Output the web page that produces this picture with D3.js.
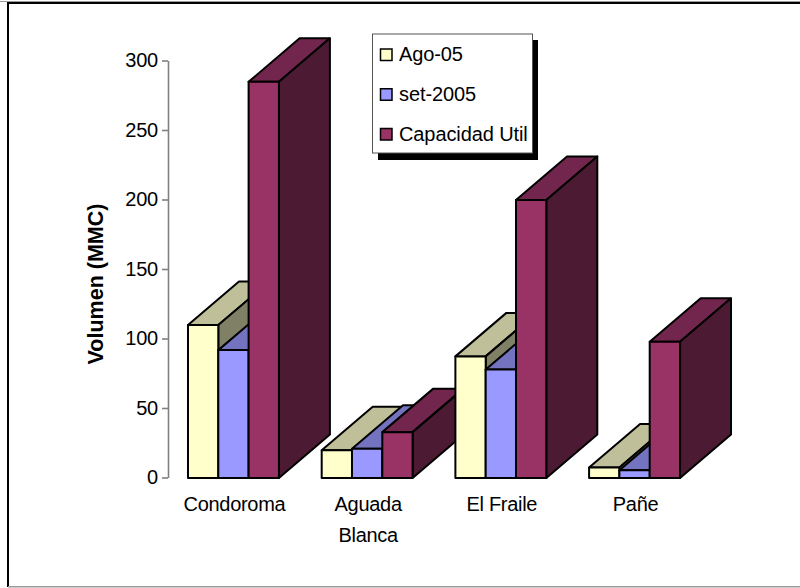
<!DOCTYPE html>
<html>
<head>
<meta charset="utf-8">
<script src="https://cdn.jsdelivr.net/npm/d3@7/dist/d3.min.js"></script>
<style>
html,body{margin:0;padding:0;background:#fff;}
svg{display:block;}
text{font-family:"Liberation Sans",Arial,sans-serif;fill:#000;}
</style>
</head>
<body>
<svg id="c" width="800" height="588"></svg>
<script>
const categories = [["Condoroma"], ["Aguada", "Blanca"], ["El Fraile"], ["Pañe"]];
const seriesNames = ["Ago-05", "set-2005", "Capacidad Util"];
const ago05 = [110, 20, 87.5, 7.5];
const set2005 = [92, 21, 78, 5.5];
const capacidad = [285, 33, 200, 98];
const yTicks = [0, 50, 100, 150, 200, 250, 300];
const frontColors = ["#FFFFCC", "#9999FF", "#993366"];
const topColors = ["#BFBF99", "#7373BF", "#73264D"];
const sideColors = ["#808066", "#4D4D80", "#4D1A33"];

const svg = d3.select("#c");
const depthX = 51, depthY = 43.5;
const seriesValues = [ago05, set2005, capacidad];

const y = d3.scaleLinear().domain([0, 300]).range([478, 61]);
const x = d3.scaleBand().domain(d3.range(categories.length)).range([166.6, 701.4]).paddingInner(0.32).paddingOuter(0.16);
const xs = d3.scaleBand().domain(d3.range(seriesNames.length)).range([0, x.bandwidth()]);

// frame
svg.append("rect").attr("x", 0).attr("y", 1).attr("width", 800).attr("height", 1).attr("fill", "#999");
svg.append("rect").attr("x", 7.5).attr("y", 2).attr("width", 800).attr("height", 2).attr("fill", "#000");
svg.append("rect").attr("x", 7).attr("y", 2).attr("width", 2).attr("height", 585).attr("fill", "#000");
svg.append("rect").attr("x", 8).attr("y", 586).attr("width", 792).attr("height", 1.5).attr("fill", "#999");

// axis
const axis = d3.axisLeft(y).tickValues(yTicks).tickSize(6).tickPadding(4).tickSizeOuter(0);
const gAxis = svg.append("g").attr("transform", "translate(168,-0.5)").call(axis);
gAxis.selectAll("path,line").attr("stroke", "#808080").attr("stroke-width", 1.6);
gAxis.selectAll("text").attr("font-size", 20).attr("font-family", '"Liberation Sans",Arial,sans-serif').attr("fill", "#000").attr("letter-spacing", -0.2);

svg.append("text").attr("transform", "translate(103,284) rotate(-90)").attr("text-anchor", "middle")
  .attr("font-size", 21.5).attr("font-weight", "bold").text("Volumen (MMC)");

// bars
const stroke = { stroke: "#000", "stroke-width": 2, "stroke-linejoin": "round" };
function poly(g, pts, fill) {
  const p = g.append("path").attr("d", d3.line()(pts) + "Z").attr("fill", fill);
  Object.entries(stroke).forEach(([k, v]) => p.attr(k, v));
}
categories.forEach((cat, i) => {
  seriesValues.forEach((vals, s) => {
    const g = svg.append("g");
    const x0 = x(i) + xs(s), x1 = x0 + xs.bandwidth();
    const yt = y(vals[i]), yb = y(0);
    poly(g, [[x0, yt], [x1, yt], [x1 + depthX, yt - depthY], [x0 + depthX, yt - depthY]], topColors[s]);
    poly(g, [[x1, yt], [x1 + depthX, yt - depthY], [x1 + depthX, yb - depthY], [x1, yb]], sideColors[s]);
    poly(g, [[x0, yt], [x1, yt], [x1, yb], [x0, yb]], frontColors[s]);
  });
  const t = svg.append("text").attr("text-anchor", "middle").attr("font-size", 20).attr("letter-spacing", -0.3);
  cat.forEach((line, k) => {
    t.append("tspan").attr("x", x(i) + x.bandwidth() / 2 + 1).attr("y", 511 + k * 31).text(line);
  });
});

// legend
const lg = svg.append("g");
lg.append("rect").attr("x", 378).attr("y", 40).attr("width", 160).attr("height", 120).attr("fill", "#000");
lg.append("rect").attr("x", 372.5).attr("y", 34).attr("width", 160).attr("height", 119).attr("fill", "#fff").attr("stroke", "#555").attr("stroke-width", 1);
const legendY = d3.scalePoint().domain(seriesNames).range([55, 134.5]);
seriesNames.forEach((n, s) => {
  lg.append("rect").attr("x", 380.5).attr("y", legendY(n) - 6).attr("width", 11.5).attr("height", 11.5)
    .attr("fill", frontColors[s]).attr("stroke", "#000").attr("stroke-width", 1.5);
  lg.append("text").attr("x", 399).attr("y", legendY(n) + 6).attr("font-size", 20).attr("letter-spacing", -0.1).text(n);
});
</script>
</body>
</html>
